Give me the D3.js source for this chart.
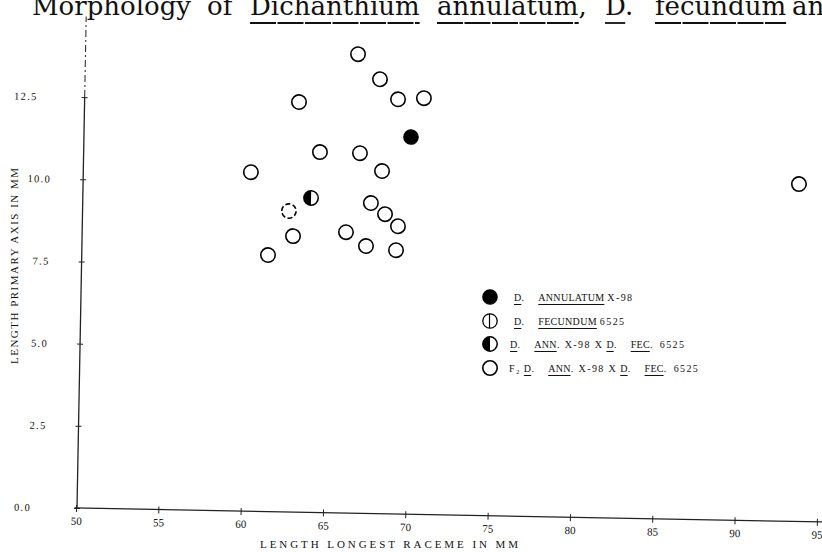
<!DOCTYPE html>
<html><head><meta charset="utf-8">
<script src="https://cdn.jsdelivr.net/npm/d3@7"></script>
<style>
html,body{margin:0;padding:0;background:#fff;}
svg text{font-family:"Liberation Serif","DejaVu Serif",serif;fill:#111;}
</style></head>
<body><svg id="c" width="822" height="552"></svg>
<script>
// ---- data ----
const xTicks = [50, 55, 60, 65, 70, 75, 80, 85, 90, 95];
const yTicks = [0, 2.5, 5, 7.5, 10, 12.5];
const annulatumX = [69.92];
const annulatumY = [11.47];
const fecundumX = [];
const fecundumY = [];
const hybridX = [63.92];
const hybridY = [9.56];
const f2X = [66.61, 67.97, 63.08, 69.09, 70.66, 64.41, 66.84, 60.24, 68.20, 67.56, 68.43, 69.23, 62.87, 66.08, 67.31, 69.14, 61.37, 93.53];
const f2Y = [13.96, 13.21, 12.47, 12.61, 12.66, 10.96, 10.95, 10.31, 10.42, 9.44, 9.11, 8.75, 8.39, 8.54, 8.13, 8.02, 7.80, 10.26];
const f2FaintX = [62.59];
const f2FaintY = [9.15];
const titleWords = ["Morphology", "of", "Dichanthium", "annulatum,", "D.", "fecundum", "an"];
const titleUnderlined = [false, false, true, true, true, true, false];
const xTitle = "LENGTH LONGEST RACEME IN MM";
const yTitle = "LENGTH PRIMARY AXIS IN MM";
const legendRows = [
  [["D.", 1], ["ANNULATUM", 1], ["X-98", 0]],
  [["D.", 1], ["FECUNDUM", 1], ["6525", 0]],
  [["D.", 1], ["ANN.", 1], ["X-98 X", 0], ["D.", 1], ["FEC.", 1], ["6525", 0]],
  [["F\u2082", 0], ["D.", 1], ["ANN.", 1], ["X-98 X", 0], ["D.", 1], ["FEC.", 1], ["6525", 0]]
];
const legendKinds = ["filled", "fecundum", "half", "open"];

// ---- drawing ----
const svg = d3.select("#c");
const R = 7.2;

// title
const titleX = [32, 207, 250, 437, 605, 655, 792];
const tg = svg.append("g");
titleWords.forEach((w, i) => {
  const t = tg.append("text").attr("x", titleX[i]).attr("y", 15)
    .style("font-family", "'DejaVu Serif',serif").style("font-size", "26px").style("font-weight", "300").text(w);
  if (titleUnderlined[i]) {
    let len = t.node().getComputedTextLength();
    if (w.endsWith(",") || w.endsWith(".")) len -= 8;
    tg.append("line").attr("x1", titleX[i]).attr("x2", titleX[i] + len)
      .attr("y1", 23).attr("y2", 23).attr("stroke", "#111").attr("stroke-width", 1.8)
      .attr("stroke-dasharray", "26,1.5");
  }
});

// plot group (scan is slightly rotated)
const g = svg.append("g").attr("transform", "translate(77,508) rotate(1.07)");
const x = d3.scaleLinear().domain([50, 95]).range([-1, 740]);
const y = d3.scaleLinear().domain([0, 12.5]).range([0, -411]);

// x axis
const xa = g.append("g").call(d3.axisBottom(x).tickValues(xTicks).tickSizeInner(4).tickSizeOuter(0).tickPadding(5));
xa.select(".domain").remove();
xa.selectAll(".tick line").attr("y1", -3).attr("stroke", "#222");
xa.selectAll(".tick text").style("font-family", "'Liberation Serif',serif").style("font-size", "11px").attr("fill", "#222");
g.append("line").attr("x1", x(49.9)).attr("x2", x(95.4)).attr("y1", 0).attr("y2", 0)
  .attr("stroke", "#222").attr("stroke-width", 1.3);

// y axis (label offsets in the scan are uneven)
const yLabelNudge = { 0: -14, 12.5: -15 };
const ya = g.append("g").call(d3.axisLeft(y).tickValues(yTicks).tickSizeInner(3).tickSizeOuter(0).tickPadding(29).tickFormat(d3.format(".1f")));
ya.select(".domain").remove();
ya.selectAll(".tick line").attr("x1", 3).attr("stroke", "#222");
ya.selectAll(".tick text").style("font-family", "'Liberation Serif',serif").style("font-size", "10.5px")
  .style("letter-spacing", "1.3px").attr("fill", "#222")
  .attr("dx", d => yLabelNudge[d] || 0);
g.append("line").attr("x1", 0).attr("x2", 0).attr("y1", y(0)).attr("y2", y(12.5))
  .attr("stroke", "#222").attr("stroke-width", 1.3);
g.append("line").attr("x1", 0).attr("x2", 0).attr("y1", y(12.5)).attr("y2", y(14.95))
  .attr("stroke", "#333").attr("stroke-width", 1.1).attr("stroke-dasharray", "7,3,2,3");

// markers
function marker(sel, kind, cx, cy, opts = {}) {
  const m = sel.append("g").attr("transform", `translate(${cx},${cy})`);
  if (kind === "filled") {
    m.append("circle").attr("r", R).attr("fill", "#000").attr("stroke", "#000").attr("stroke-width", 1.2);
  } else if (kind === "half") {
    m.append("circle").attr("r", R).attr("fill", "#fff").attr("stroke", "#000").attr("stroke-width", 1.5);
    m.append("path").attr("d", `M0,${-R} A${R},${R} 0 0 0 0,${R} Z`).attr("fill", "#000");
  } else if (kind === "fecundum") {
    m.append("circle").attr("r", R).attr("fill", "#fff").attr("stroke", "#000").attr("stroke-width", 1.3);
    m.append("line").attr("x1", -0.5).attr("x2", -0.5).attr("y1", -R).attr("y2", R).attr("stroke", "#000").attr("stroke-width", 1.2);
  } else {
    m.append("circle").attr("r", R).attr("fill", "#fff").attr("stroke", "#000").attr("stroke-width", 1.6)
      .attr("stroke-dasharray", opts.dash || null);
  }
}
const pts = g.append("g");
f2X.forEach((v, i) => marker(pts, "open", x(v), y(f2Y[i])));
f2FaintX.forEach((v, i) => marker(pts, "open", x(v), y(f2FaintY[i]), { dash: "5,2.5" }));
fecundumX.forEach((v, i) => marker(pts, "fecundum", x(v), y(fecundumY[i])));
annulatumX.forEach((v, i) => marker(pts, "filled", x(v), y(annulatumY[i])));
hybridX.forEach((v, i) => marker(pts, "half", x(v), y(hybridY[i])));

// axis titles
svg.append("text").attr("x", 389).attr("y", 548).attr("text-anchor", "middle")
  .style("font-size", "11px").attr("textLength", 258).attr("lengthAdjust", "spacing").text(xTitle);
svg.append("text").attr("transform", "translate(18,266) rotate(-90)").attr("text-anchor", "middle")
  .style("font-size", "11px").attr("textLength", 196).attr("lengthAdjust", "spacing").text(yTitle);

// legend
const legY = [297, 321, 344, 368];
const legTextX = [514, 514, 510, 509];
const gapAfter = { "D.": 14, "ANN.": 5, "FEC.": 7 };
const lg = svg.append("g");
legendRows.forEach((row, r) => {
  marker(lg, legendKinds[r], 490, legY[r]);
  let cx = legTextX[r];
  row.forEach(([txt, ul], k) => {
    const t = lg.append("text").attr("x", cx).attr("y", legY[r] + 4)
      .style("font-size", "10px").style("letter-spacing", ul ? "0.3px" : "1.4px").text(txt);
    const w = t.node().getComputedTextLength();
    if (ul) {
      const uw = txt.endsWith(".") ? w - 3 : w;
      lg.append("line").attr("x1", cx).attr("x2", cx + uw).attr("y1", legY[r] + 7.5).attr("y2", legY[r] + 7.5)
        .attr("stroke", "#111").attr("stroke-width", 1);
    }
    cx += w + (gapAfter[txt] !== undefined ? gapAfter[txt] : 3);
  });
});
</script></body></html>
